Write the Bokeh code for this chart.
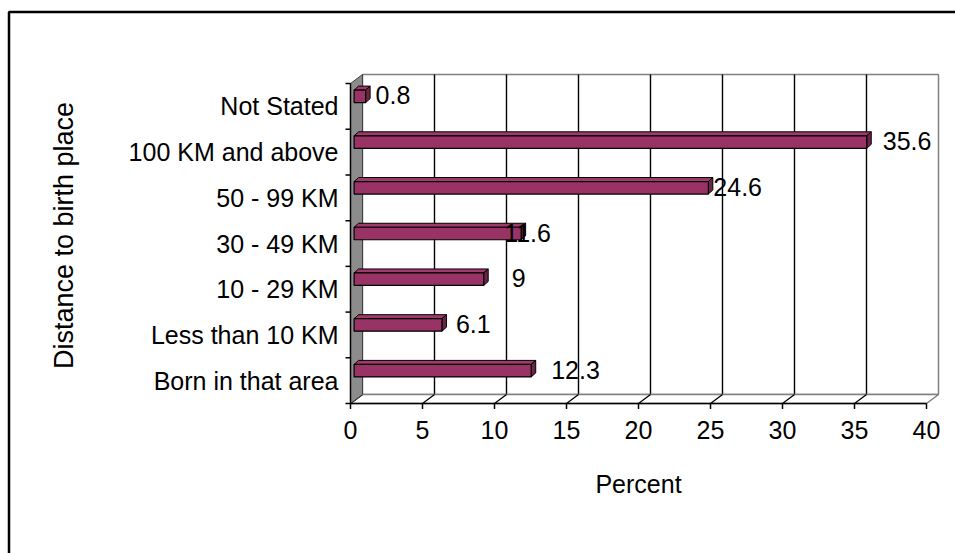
import numpy as np
from bokeh.plotting import figure
from bokeh.models import ColumnDataSource, Range1d
from bokeh.core.properties import value
from bokeh.embed import file_html
from bokeh.resources import INLINE

# ---- data -------------------------------------------------------------
categories = ["Born in that area", "Less than 10 KM", "10 - 29 KM", "30 - 49 KM",
              "50 - 99 KM", "100 KM and above", "Not Stated"]
percent = [12.3, 6.1, 9, 11.6, 24.6, 35.6, 0.8]
x_ticks = [0, 5, 10, 15, 20, 25, 30, 35, 40]
x_tick_labels = [str(t) for t in x_ticks]
x_title = "Percent"
y_title = "Distance to birth place"

# horizontal pixel nudges for the value labels
label_nudge_px = [20, 14, 28, -17, 5, 16, 10]

# ---- layout (screen pixels) ---------------------------------------------
W, H = 955, 553
X0_PX, Y0_PX = 350, 403          # front-left corner of the floor
PX_PER_PCT = 576 / 40            # front axis: 0..40 over 576 px
PX_PER_CAT = 320 / 7             # category band height
FONT = value("Liberation Sans")
FS = value("25px")


def px_x(px):
    return (px - X0_PX) / PX_PER_PCT


def px_y(py):
    return (Y0_PX - py) / PX_PER_CAT


def dx(n):
    return n / PX_PER_PCT


def dy(n):
    return n / PX_PER_CAT


DX, DY = dx(12), dy(9)           # depth of the 3-D walls
n_cat = len(categories)
x_max = x_ticks[-1]

p = figure(width=W, height=H,
           x_range=Range1d(px_x(0), px_x(W)), y_range=Range1d(px_y(H), px_y(0)),
           x_axis_type=None, y_axis_type=None, toolbar_location=None,
           output_backend="svg", min_border=0, outline_line_color=None,
           background_fill_color="white", border_fill_color="white")

# chart-area border
p.quad(left=px_x(8.5), right=px_x(1200), top=px_y(11.5), bottom=px_y(900),
       fill_color=None, line_color="black", line_width=2.5)

# back wall + gridlines
p.quad(left=DX, right=x_max + DX, bottom=DY, top=n_cat + DY,
       fill_color="white", line_color="#808080", line_width=1.5)
inner = x_ticks[1:-1]
p.segment(x0=[v + DX for v in inner], y0=DY, x1=[v + DX for v in inner], y1=n_cat + DY,
          line_color="black", line_width=1.4)

# floor
p.patch([0, x_max, x_max + DX, DX], [0, 0, DY, DY],
        fill_color="white", line_color="#808080", line_width=1.5)
p.segment(x0=x_ticks[:-1], y0=0, x1=[v + DX for v in x_ticks[:-1]], y1=DY,
          line_color="black", line_width=1.3)

# left wall
p.patch([0, DX, DX, 0], [0, DY, n_cat + DY, n_cat],
        fill_color="#8c8c8c", line_color="#404040", line_width=1)

# axes lines and ticks
p.segment(x0=0, y0=0, x1=x_max, y1=0, line_color="black", line_width=1.5)
p.segment(x0=x_ticks, y0=0, x1=x_ticks, y1=dy(-5.5), line_color="black", line_width=1.5)
p.segment(x0=0, y0=0, x1=0, y1=n_cat, line_color="black", line_width=1.5)
bounds = list(range(n_cat + 1))
p.segment(x0=dx(-5), y0=bounds, x1=0, y1=bounds, line_color="black", line_width=1.5)

# ---- 3-D bars -------------------------------------------------------------
FX = dx(3.6)           # bar front face starts slightly behind the axis
FACE_H = dy(12.5)
FACE_SHIFT = dy(10)    # bars sit above the band centre
BDX, BDY = dx(4.5), dy(4)

centres = [i + 0.5 + FACE_SHIFT for i in range(n_cat)]
lefts = [FX] * n_cat
rights = [FX + v for v in percent]
bottoms = [c - FACE_H / 2 for c in centres]
tops = [c + FACE_H / 2 for c in centres]

top_xs = [[l, r, r + BDX, l + BDX] for l, r in zip(lefts, rights)]
top_ys = [[t, t, t + BDY, t + BDY] for t in tops]
side_xs = [[r, r, r + BDX, r + BDX] for r in rights]
side_ys = [[b, t, t + BDY, b + BDY] for b, t in zip(bottoms, tops)]

p.patches(top_xs, top_ys, fill_color="#a03a6c", line_color="black", line_width=1)
p.patches(side_xs, side_ys, fill_color="#6e2448", line_color="black", line_width=1)
p.quad(left=lefts, right=rights, bottom=bottoms, top=tops,
       fill_color="#993366", line_color="black", line_width=1.2)

# value labels
val_src = ColumnDataSource(dict(
    x=rights, y=[i + 0.5 + dy(11) for i in range(n_cat)],
    text=[f"{v:g}" for v in percent], nudge=label_nudge_px))
p.text(x="x", y="y", text="text", x_offset="nudge", source=val_src,
       text_font=FONT, text_font_size=FS, text_color="black",
       text_align="left", text_baseline="middle")

# category labels
cat_src = ColumnDataSource(dict(x=[dx(-12)] * n_cat, y=[i + 0.5 for i in range(n_cat)],
                                text=categories))
p.text(x="x", y="y", text="text", source=cat_src,
       text_font=FONT, text_font_size=FS, text_color="black",
       text_align="right", text_baseline="middle")

# x tick labels
tick_src = ColumnDataSource(dict(x=x_ticks, y=[px_y(429)] * len(x_ticks), text=x_tick_labels))
p.text(x="x", y="y", text="text", source=tick_src,
       text_font=FONT, text_font_size=FS, text_color="black",
       text_align="center", text_baseline="middle")

# axis titles
p.text(x=[x_max / 2], y=[px_y(483.5)], text=[x_title],
       text_font=FONT, text_font_size=FS, text_color="black",
       text_align="center", text_baseline="middle")
p.text(x=[px_x(63.5)], y=[px_y(235)], text=[y_title], angle=np.pi / 2,
       text_font=FONT, text_font_size=value("27px"), text_color="black",
       text_align="center", text_baseline="middle")

open("out.html", "w").write(file_html(p, INLINE))
